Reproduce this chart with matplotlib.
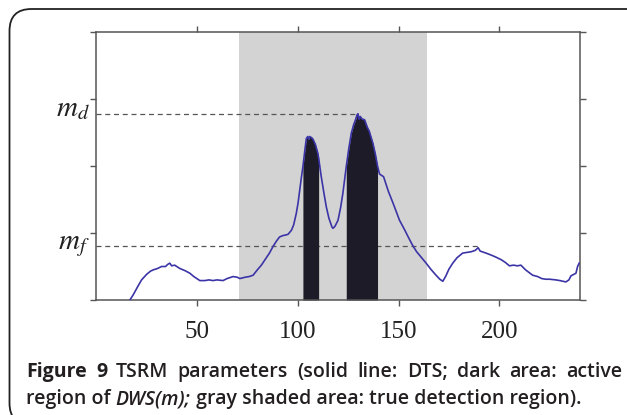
import matplotlib
matplotlib.use("Agg")
import numpy as np
import matplotlib.pyplot as plt
import matplotlib.transforms as mtransforms
from matplotlib.patches import FancyBboxPatch

# DTS curve (sample index m, value)
dts_x = [16.8, 18.5, 20.5, 22.6, 25, 27, 28.4, 30.5, 32.5, 34.5, 35.5, 36.6, 37.5, 39,
         41.6, 44, 46.5, 48.5, 50, 51.5, 54, 56, 58, 60, 63, 65, 68, 70, 71.3, 74, 76,
         77.9, 80, 82, 84, 86, 87.8, 89.5, 91, 92.5, 94, 95.2, 96.9, 98, 99.3, 100.2,
         101, 101.8, 102.6, 103.5, 104.3, 105, 105.5, 106, 107, 107.6, 108.8, 110, 110.4,
         111.7, 113, 114.2, 115.5, 117, 117.5, 118.5, 120, 121.3, 122.4, 123.3, 124.1,
         125.3, 126.6, 127.8, 128.8, 129.4, 129.9, 130.4, 131, 132, 133.2, 134.5, 135.5,
         136.5, 137.3, 138.5, 139.6, 140.6, 142.6, 145, 147.5, 150.5, 153, 155, 157.1,
         159, 161.5, 163.7, 166, 168.6, 170.5, 172, 173.5, 175, 176.9, 179, 181.8, 184,
         186, 188, 189.5, 190.5, 193.4, 196, 198.3, 201, 203, 205, 207, 209, 210.7, 213,
         216.5, 219, 221, 223, 225, 228, 230, 233, 234.5, 235.5, 238, 238.8, 239.6]
dts_y = [0.0, 0.08, 0.19, 0.30, 0.38, 0.43, 0.45, 0.47, 0.50, 0.50, 0.53, 0.55, 0.51, 0.52,
         0.47, 0.44, 0.40, 0.35, 0.32, 0.29, 0.29, 0.30, 0.29, 0.30, 0.29, 0.32, 0.35, 0.34,
         0.32, 0.34, 0.35, 0.37, 0.45, 0.52, 0.61, 0.70, 0.80, 0.88, 0.94, 0.96, 0.97, 0.98,
         1.04, 1.12, 1.29, 1.45, 1.64, 1.82, 1.99, 2.22, 2.41, 2.44, 2.40, 2.44, 2.42, 2.40,
         2.32, 2.19, 2.12, 1.84, 1.60, 1.39, 1.22, 1.09, 1.07, 1.10, 1.19, 1.38, 1.59, 1.80,
         1.99, 2.25, 2.49, 2.62, 2.70, 2.76, 2.78, 2.70, 2.74, 2.70, 2.69, 2.58, 2.52, 2.42,
         2.34, 2.18, 2.00, 1.88, 1.84, 1.62, 1.43, 1.19, 1.05, 0.93, 0.81, 0.72, 0.63, 0.55,
         0.46, 0.37, 0.31, 0.28, 0.36, 0.46, 0.55, 0.63, 0.70, 0.71, 0.72, 0.74, 0.78, 0.73,
         0.70, 0.67, 0.64, 0.60, 0.56, 0.51, 0.52, 0.51, 0.52, 0.45, 0.37, 0.35, 0.32, 0.31,
         0.31, 0.30, 0.29, 0.27, 0.30, 0.36, 0.40, 0.50, 0.55]

true_region = (71, 164)
active_regions = [(102.6, 110.4), (124.1, 139.6)]
m_d, m_f = 2.78, 0.80
m_d_end, m_f_end = 130, 189.5
x_ticks = [50, 100, 150, 200]
y_ticks = [0, 1, 2, 3, 4]

W, H = 627, 415
fig = plt.figure(figsize=(W / 100, H / 100), dpi=100)

# rounded frame round the whole figure
frame = FancyBboxPatch((9.5 / W, -10 / H), 700 / W, (H - 9 - -10) / H,
                       boxstyle="round,pad=0,rounding_size=0.035",
                       transform=fig.transFigure, fc="none", ec="#222222", lw=1.3,
                       mutation_aspect=W / H)
fig.patches.append(frame)

ax = fig.add_axes([96 / W, (H - 300) / H, 484 / W, 268 / H])
x = np.array(dts_x)
y = np.array(dts_y)

ax.axvspan(*true_region, color="#d3d3d3", lw=0, zorder=0)
for a, b in active_regions:
    sel = (x >= a) & (x <= b)
    ax.fill_between(x[sel], 0, y[sel], color="#1c1b27", lw=0, zorder=2)
ax.plot(x, y, color="#3b34a6", lw=1.2, zorder=3)

ax.plot([0, m_d_end], [m_d, m_d], ls=(0, (4, 3)), color="#555555", lw=0.9, zorder=1)
ax.plot([0, m_f_end], [m_f, m_f], ls=(0, (4, 3)), color="#555555", lw=0.9, zorder=1)

ax.set_xlim(0, 240)
ax.set_ylim(0, 4)
ax.set_xticks(x_ticks)
ax.set_yticks(y_ticks)
ax.set_yticklabels([])
ax.tick_params(direction="out", length=4, width=1, color="#555555",
               top=True, right=True, labeltop=False, labelright=False)
ax.tick_params(axis="x", labelsize=18, pad=11, labelcolor="#222222")
for lab in ax.get_xticklabels():
    lab.set_fontfamily("Liberation Serif")
for s in ax.spines.values():
    s.set_color("#555555")
    s.set_linewidth(1.1)

plt.rcParams["mathtext.fontset"] = "stix"
lbl_tr = mtransforms.blended_transform_factory(fig.transFigure, ax.transData)
lbl_tr = lbl_tr + mtransforms.ScaledTranslation(0, -2.5 / 100, fig.dpi_scale_trans)
ax.text(90 / W, m_d, r"$m_d$", transform=lbl_tr, ha="right", va="baseline",
        fontsize=21, color="#222222")
ax.text(90 / W, m_f, r"$m_f$", transform=lbl_tr, ha="right", va="baseline",
        fontsize=21, color="#222222")

# caption, first line justified across the frame
fs = 14
cap_font = ["Open Sans", "DejaVu Sans"]
renderer = fig.canvas.get_renderer()
line1 = [("Figure", "bold"), ("9", "bold"), ("TSRM", "semibold"),
         ("parameters", "semibold"), ("(solid", "semibold"), ("line:", "semibold"),
         ("DTS;", "semibold"), ("dark", "semibold"), ("area:", "semibold"),
         ("active", "semibold")]
x0, x1, base1 = 26, 622, 377
texts = []
for word, wt in line1:
    t = fig.text(0, (H - base1) / H, word, fontsize=fs, fontweight=wt,
                 family=cap_font, color="#231f20", va="baseline", ha="left")
    texts.append(t)
widths = [t.get_window_extent(renderer).width for t in texts]
gap = (x1 - x0 - sum(widths)) / (len(texts) - 1)
cur = x0
for t, w in zip(texts, widths):
    t.set_x(cur / W)
    cur += w + gap

base2 = 404
line2 = [("region of ", "normal"), ("DWS(m);", "italic"),
         (" gray shaded area: true detection region).", "normal")]
cur = x0
for seg, st in line2:
    t = fig.text(cur / W, (H - base2) / H, seg, fontsize=fs, fontweight="semibold",
                 style=st, family=cap_font, color="#231f20", va="baseline", ha="left")
    cur += t.get_window_extent(renderer).width

fig.savefig("out.png", dpi=100)
